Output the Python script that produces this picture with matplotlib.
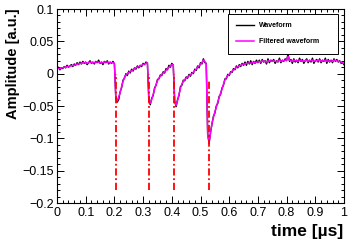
import numpy as np
import matplotlib
matplotlib.use("Agg")
import matplotlib.pyplot as plt
from matplotlib.ticker import MultipleLocator, FuncFormatter

plt.rcParams['font.family'] = ['Liberation Sans', 'DejaVu Sans']

# samples every 0.005 us, amplitude in units of 1e-3 a.u.
waveform = [
    # baseline 0 - 0.2
    7, 10, 6, 9, 8, 11, 9, 13, 10, 12, 14, 11, 15, 13, 17, 14, 18,
    15, 19, 16, 18, 14, 17, 20, 16, 18, 15, 19, 17, 21, 16, 18, 14, 19, 17, 20, 15, 18, 16, 19, 15,
    # pulse 1
    -39, -44, -40, -28, -22, -10, -7, 0, -3, 4, 1, 7, 4, 9, 7, 12, 9, 13, 11, 16, 14, 18, 16,
    # pulse 2
    -40, -48, -38, -34, -22, -18, -9, -8, -2, -3, 3, 1, 8, 6, 13, 10, 16, 13,
    # pulse 3
    -42, -51, -40, -34, -20, -18, -10, -11, -5, -7, -1, -4, 2, 0, 7, 5, 12, 9, 17, 15, 23, 17, 16,
    # pulse 4 and tail
    -93, -108, -90, -78, -66, -61, -50, -46, -35, -32, -22, -18, -8, -8, -1, -3, 3, 2, 8, 6,
    12, 9, 14, 11, 16, 13,
    18, 13, 19, 15, 20, 14, 19, 16, 21, 17,
    21, 16, 22, 18, 20, 15, 23, 17, 21, 19,
    22, 16, 20, 18, 24, 17, 21, 19, 23, 20,
    31, 19, 22, 16, 23, 18, 21, 17, 24, 19,
    22, 16, 20, 23, 17, 21, 18, 24, 16, 20,
    22, 18, 23, 17, 21, 19, 24, 16, 22, 18,
    21, 17, 23, 19, 22, 18, 20, 16, 17, 14,
]

filtered = [
    8, 8, 8, 9, 9, 10, 10, 11, 11, 12, 12, 13, 13, 14, 15, 15, 16,
    16, 17, 17, 17, 16, 17, 18, 17, 17, 17, 18, 18, 18, 17, 17, 17, 18, 18, 18, 17, 17, 17, 17, 16,
    -38, -42, -36, -29, -20, -12, -6, -2, 0, 2, 3, 5, 6, 8, 9, 10, 11, 12, 13, 14, 15, 16, 17,
    -41, -46, -40, -32, -24, -17, -11, -7, -4, -1, 1, 3, 5, 8, 10, 12, 14, 14,
    -44, -49, -42, -32, -23, -16, -12, -9, -7, -5, -3, -2, 0, 2, 5, 7, 10, 12, 15, 17, 21, 19, 15,
    -95, -106, -92, -76, -68, -59, -52, -44, -37, -30, -24, -16, -10, -6, -3, -1, 1, 4, 6, 8,
    10, 11, 12, 13, 14, 15,
    15, 16, 16, 17, 16, 17, 18, 17, 18, 18,
    19, 18, 20, 19, 19, 18, 20, 19, 20, 19,
    20, 19, 19, 19, 21, 19, 20, 20, 21, 21,
    27, 21, 20, 19, 21, 20, 20, 19, 21, 20,
    20, 19, 20, 21, 19, 20, 20, 21, 19, 20,
    20, 20, 21, 19, 20, 20, 21, 19, 20, 19,
    20, 19, 21, 20, 20, 19, 19, 18, 17, 16,
]

pulse_times = [0.205, 0.32, 0.407, 0.528]
pulse_tops = [0.0, -0.001, 0.0, -0.012]
pulse_bottom = -0.18

t = np.linspace(0, 1, len(waveform))
wave = np.array(waveform) * 1e-3
filt = np.array(filtered) * 1e-3

fig = plt.figure(figsize=(3.57, 2.44), dpi=100)
ax = fig.add_axes([0.1597, 0.168, 0.8039, 0.795])

ax.plot(t, wave, color='black', lw=1.0, label='Waveform')
ax.plot(t, filt, color='#ff00ff', lw=1.1, label='Filtered waveform')
ax.vlines(pulse_times, pulse_bottom, pulse_tops, colors='red', lw=1.3,
          linestyles=[(0, (4, 1.5, 1, 1.5))])

ax.set_xlim(0, 1)
ax.set_ylim(-0.2, 0.1)

ax.xaxis.set_major_locator(MultipleLocator(0.1))
ax.xaxis.set_minor_locator(MultipleLocator(0.02))
ax.yaxis.set_major_locator(MultipleLocator(0.05))
ax.yaxis.set_minor_locator(MultipleLocator(0.01))


def fmt(v, pos):
    s = '%g' % round(v, 3)
    return s.replace('-', '\u2212')


ax.xaxis.set_major_formatter(FuncFormatter(fmt))
ax.yaxis.set_major_formatter(FuncFormatter(fmt))

ax.tick_params(which='both', direction='in', top=True, right=True, labelsize=9, width=0.7)
ax.tick_params(which='major', length=5)
ax.tick_params(which='minor', length=2.5)
ax.tick_params(axis='x', pad=3)
ax.tick_params(axis='y', pad=2.5)
for sp in ax.spines.values():
    sp.set_linewidth(0.8)

fig.text(0.961, 0.05, 'time [\u00b5s]', ha='right', va='center', fontsize=12.5, fontweight='bold')
fig.text(0.036, 0.967, 'Amplitude [a.u.]', ha='center', va='top', rotation=90,
         fontsize=10.5, fontweight='bold')

leg = ax.legend(loc='upper left', bbox_to_anchor=(0.596, 0.974, 0.383, 0.0), mode='expand',
                borderaxespad=0, fontsize=5, fancybox=False, framealpha=1, edgecolor='black',
                handlelength=2.6, handletextpad=0.6, labelspacing=1.3, borderpad=1.2)
leg.get_frame().set_linewidth(0.7)
for txt in leg.get_texts():
    txt.set_fontweight('bold')

fig.savefig('out.png', dpi=100)
